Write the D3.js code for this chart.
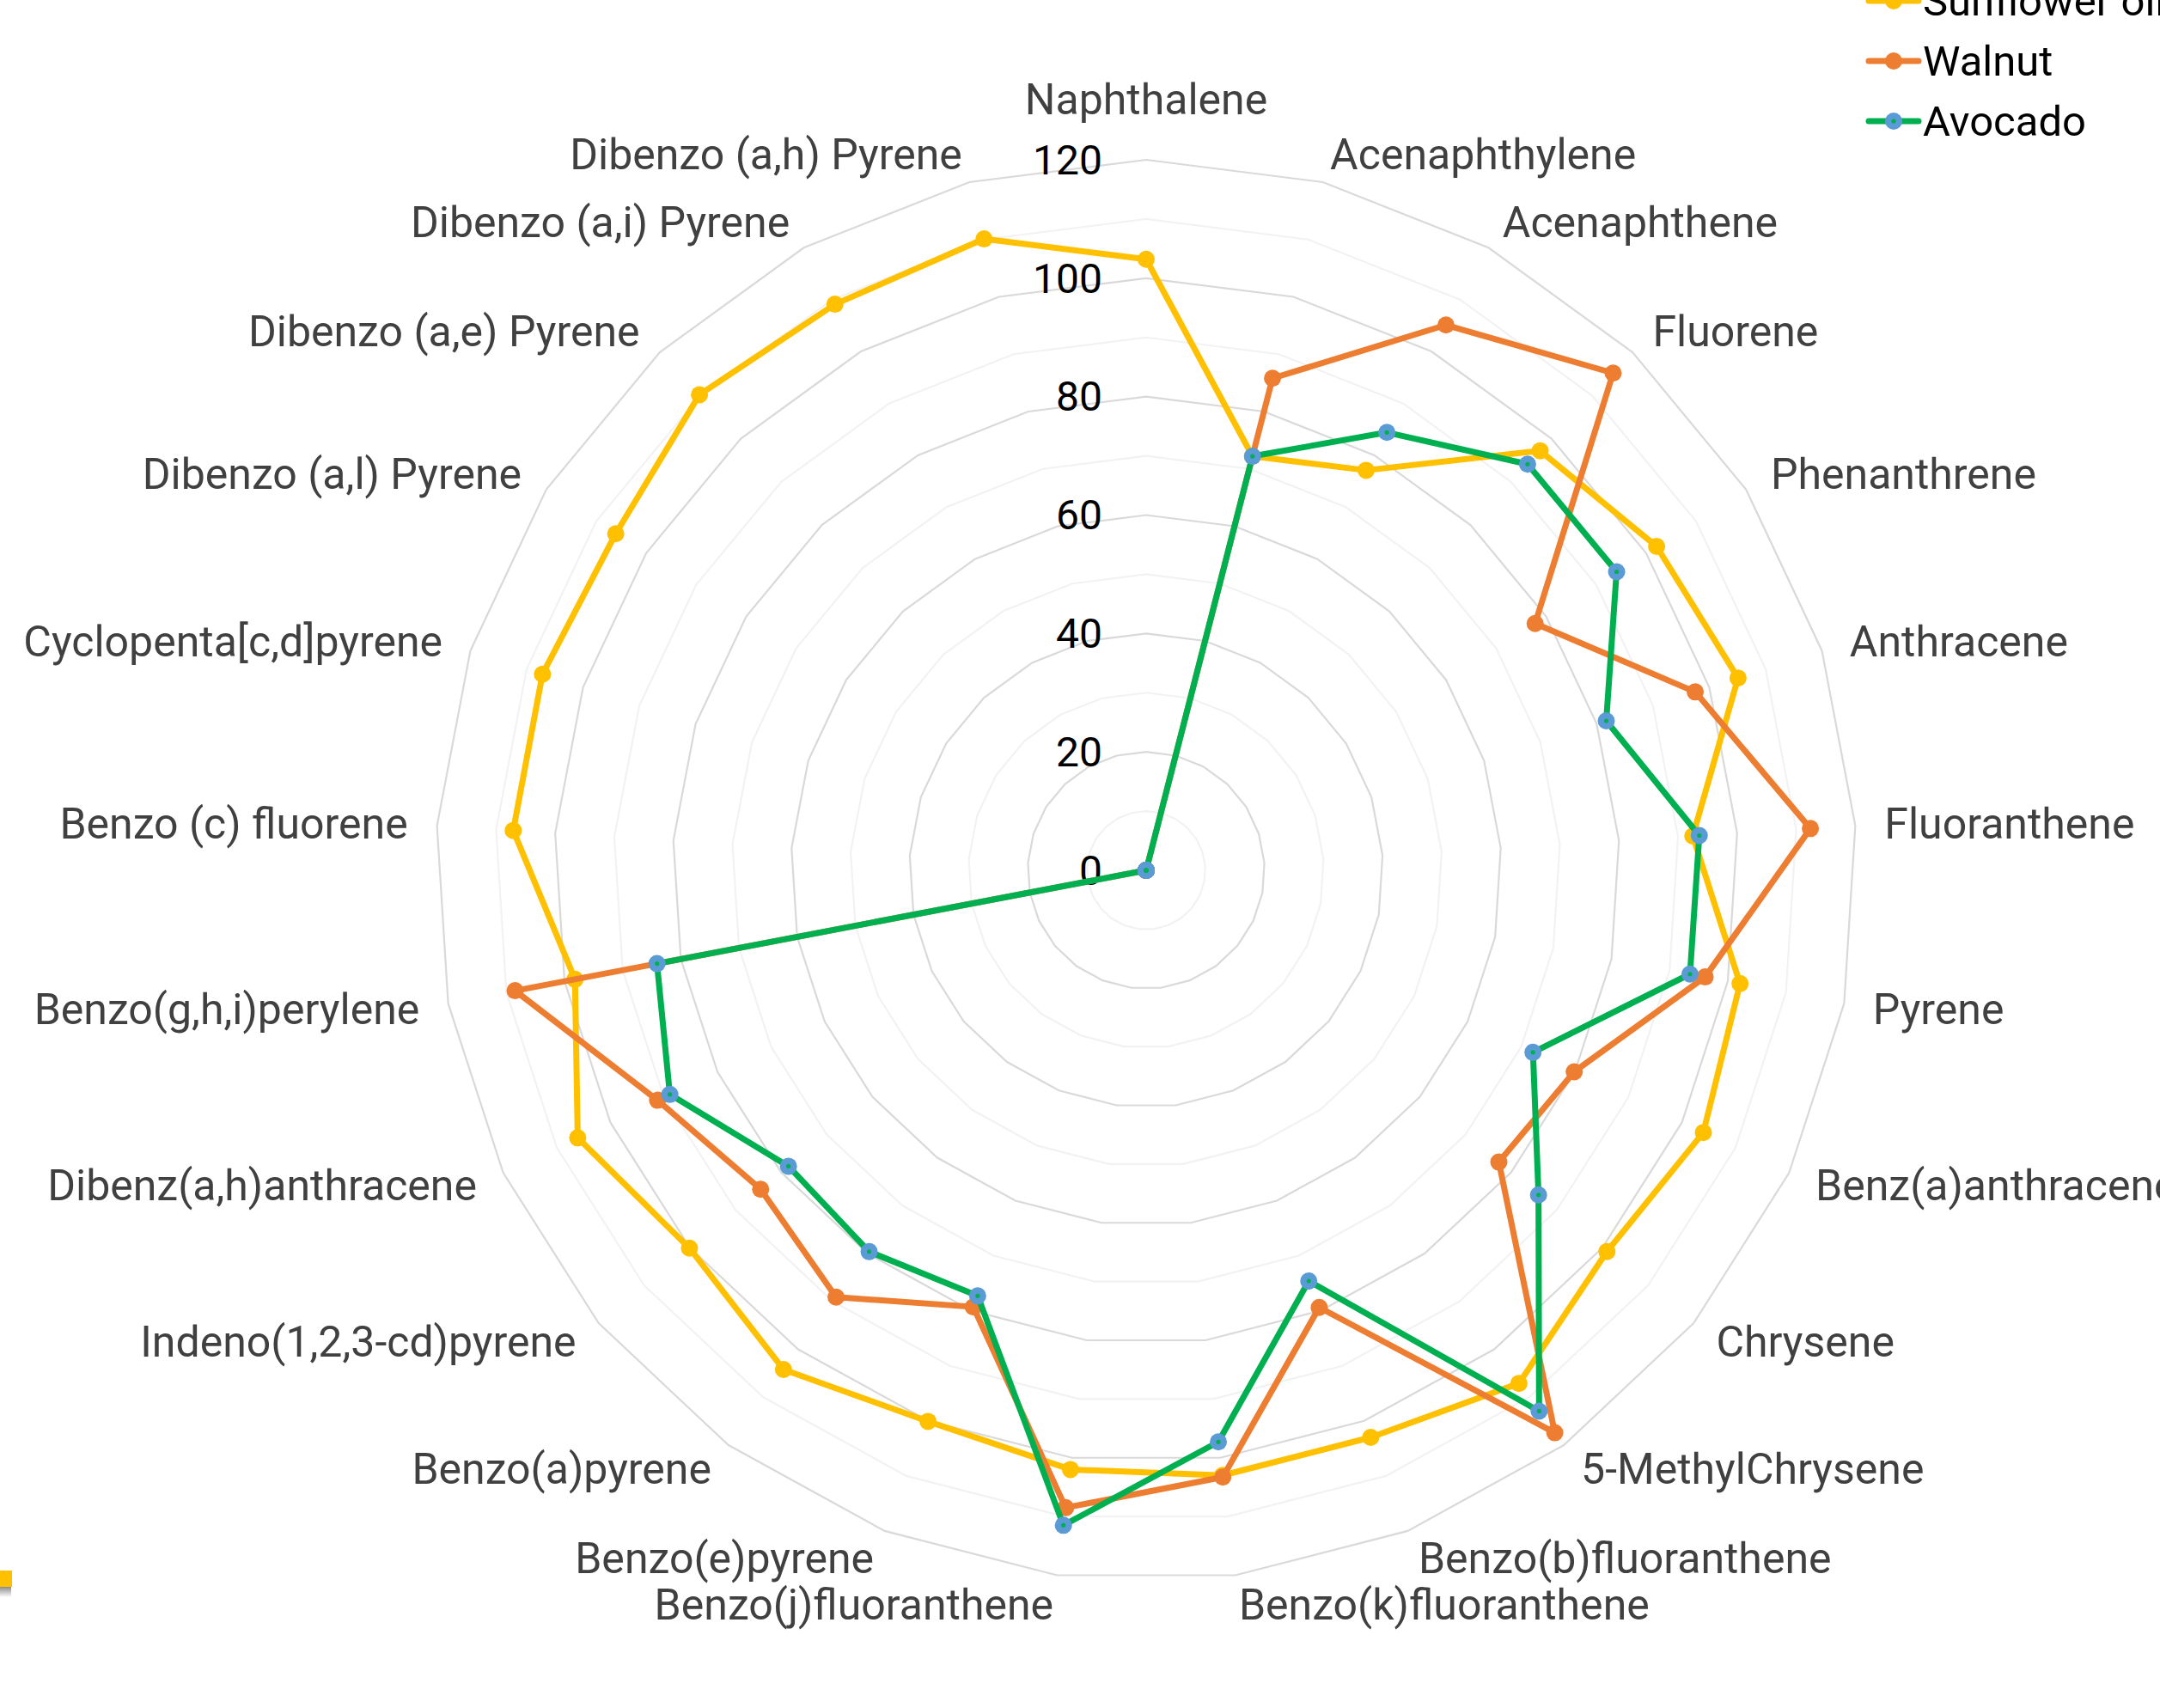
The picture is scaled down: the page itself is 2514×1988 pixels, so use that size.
<!DOCTYPE html>
<html>
<head>
<meta charset="utf-8">
<script src="https://cdn.jsdelivr.net/npm/d3@7"></script>
<style>
  html, body { margin: 0; padding: 0; background: #ffffff; }
  svg { display: block; }
</style>
</head>
<body>
<svg id="chart" width="2514" height="1988"></svg>
<script>
// ---------- data ----------
const categories = ["Naphthalene","Acenaphthylene","Acenaphthene","Fluorene","Phenanthrene","Anthracene",
  "Fluoranthene","Pyrene","Benz(a)anthracene","Chrysene","5-MethylChrysene","Benzo(b)fluoranthene",
  "Benzo(k)fluoranthene","Benzo(j)fluoranthene","Benzo(e)pyrene","Benzo(a)pyrene","Indeno(1,2,3-cd)pyrene",
  "Dibenz(a,h)anthracene","Benzo(g,h,i)perylene","Benzo (c) fluorene","Cyclopenta[c,d]pyrene",
  "Dibenzo (a,l) Pyrene","Dibenzo (a,e) Pyrene","Dibenzo (a,i) Pyrene","Dibenzo (a,h) Pyrene"];

const sunflowerOil = [103.2, 72.2, 77.1, 97.2, 102.1, 105.1, 92.5, 102.1, 104.0, 101.0, 107.1, 103.0, 103.0,
  102.0, 100.1, 104.2, 100.1, 106.1, 98.2, 107.1, 107.2, 106.1, 110.2, 109.1, 110.1];
const walnut = [0, 85.8, 105.1, 115.2, 77.8, 97.5, 112.4, 96.1, 79.9, 77.3, 117.4, 79.4, 103.3,
  108.5, 79.3, 89.1, 84.5, 91.2, 108.5, 0, 0, 0, 0, 0, 0];
const avocado = [0, 72.2, 84.4, 94.1, 94.1, 81.7, 93.6, 93.5, 72.2, 86.0, 112.9, 74.6, 97.3,
  111.5, 77.3, 79.6, 78.4, 88.9, 84.1, 0, 0, 0, 0, 0, 0];

const seriesNames = ["Sunflower oil", "Walnut", "Avocado"];
const tickValues = [0, 20, 40, 60, 80, 100, 120];
const gridValues = [10, 20, 30, 40, 50, 60, 70, 80, 90, 100, 110, 120];

// ---------- layout / style ----------
const W = 2514, H = 1988;
const cx = 1334, cy = 1013, R = 827;
const FONT = "Roboto, 'Liberation Sans', sans-serif";
const FS = 50;

const series = [
  { name: seriesNames[0], values: sunflowerOil, line: "#FFC000", fill: "#FFC000", dot: null },
  { name: seriesNames[1], values: walnut,       line: "#ED7D31", fill: "#ED7D31", dot: null },
  { name: seriesNames[2], values: avocado,      line: "#00B050", fill: "#5B9BD5", dot: "#00B050" }
];

const svg = d3.select("#chart");
const N = categories.length;
const angle = d3.scaleLinear().domain([0, N]).range([0, 2 * Math.PI]);
const r = d3.scaleLinear().domain([0, 120]).range([0, R]);

const g = svg.append("g").attr("transform", `translate(${cx},${cy})`);

// grid polygons
const gridLine = d3.lineRadial()
  .angle((d, i) => angle(i))
  .radius(d => r(d))
  .curve(d3.curveLinearClosed);

g.append("g").selectAll("path")
  .data(gridValues)
  .join("path")
  .attr("d", v => gridLine(categories.map(() => v)))
  .attr("fill", "none")
  .attr("stroke", v => (v % 20 === 0 ? "#D9D9D9" : "#F2F2F2"))
  .attr("stroke-width", 2.2);

// tick labels
g.append("g").selectAll("text")
  .data(tickValues)
  .join("text")
  .attr("x", -51)
  .attr("y", v => -r(v))
  .attr("dy", "0.35em")
  .attr("text-anchor", "end")
  .attr("font-family", FONT)
  .attr("font-size", 48)
  .attr("fill", "#000000")
  .text(v => v);

// category labels
const labelR = R + 34;
g.append("g").selectAll("text")
  .data(categories)
  .join("text")
  .attr("x", (d, i) => d3.pointRadial(angle(i), labelR)[0])
  .attr("y", (d, i) => d3.pointRadial(angle(i), labelR)[1] - (i === 0 ? 37 : 0))
  .attr("dy", "0.35em")
  .attr("text-anchor", (d, i) => (i === 0 ? "middle" : (i < N / 2 ? "start" : "end")))
  .attr("font-family", FONT)
  .attr("font-size", FS)
  .attr("fill", "#404040")
  .text(d => d);

// series
const seriesLine = d3.lineRadial()
  .angle((d, i) => angle(i))
  .radius(d => r(d))
  .curve(d3.curveLinearClosed);

series.forEach(s => {
  const sg = g.append("g");
  sg.append("path")
    .attr("d", seriesLine(s.values))
    .attr("fill", "none")
    .attr("stroke", s.line)
    .attr("stroke-width", 7)
    .attr("stroke-linejoin", "round");
  sg.selectAll("circle.m")
    .data(s.values)
    .join("circle")
    .attr("class", "m")
    .attr("cx", (d, i) => d3.pointRadial(angle(i), r(d))[0])
    .attr("cy", (d, i) => d3.pointRadial(angle(i), r(d))[1])
    .attr("r", 10)
    .attr("fill", s.fill);
  if (s.dot) {
    sg.selectAll("circle.d")
      .data(s.values)
      .join("circle")
      .attr("class", "d")
      .attr("cx", (d, i) => d3.pointRadial(angle(i), r(d))[0])
      .attr("cy", (d, i) => d3.pointRadial(angle(i), r(d))[1])
      .attr("r", 2.6)
      .attr("fill", s.dot);
  }
});

// legend
const legend = svg.append("g");
const legY = d3.scaleLinear().domain([0, 1]).range([1, 71]);
series.forEach((s, k) => {
  const y = legY(k);
  const lg = legend.append("g");
  lg.append("line")
    .attr("x1", 2175).attr("x2", 2233)
    .attr("y1", y).attr("y2", y)
    .attr("stroke", s.line).attr("stroke-width", 7)
    .attr("stroke-linecap", "round");
  lg.append("circle").attr("cx", 2204).attr("cy", y).attr("r", 10).attr("fill", s.fill);
  if (s.dot) lg.append("circle").attr("cx", 2204).attr("cy", y).attr("r", 2.6).attr("fill", s.dot);
  lg.append("text")
    .attr("x", 2238).attr("y", y).attr("dy", "0.35em")
    .attr("font-family", FONT).attr("font-size", 49)
    .attr("fill", "#000000")
    .text(s.name);
});

// small yellow shape at lower-left edge (part of a neighbouring object)
const defs = svg.append("defs");
const grad = defs.append("linearGradient").attr("id", "shadow").attr("x1", 0).attr("x2", 0).attr("y1", 0).attr("y2", 1);
grad.append("stop").attr("offset", 0).attr("stop-color", "#8c8c8c");
grad.append("stop").attr("offset", 1).attr("stop-color", "#ffffff");
svg.append("rect").attr("x", 0).attr("y", 1847).attr("width", 13).attr("height", 12).attr("fill", "url(#shadow)");
svg.append("rect").attr("x", 0).attr("y", 1828).attr("width", 14).attr("height", 19).attr("fill", "#FFC000");
</script>
</body>
</html>
